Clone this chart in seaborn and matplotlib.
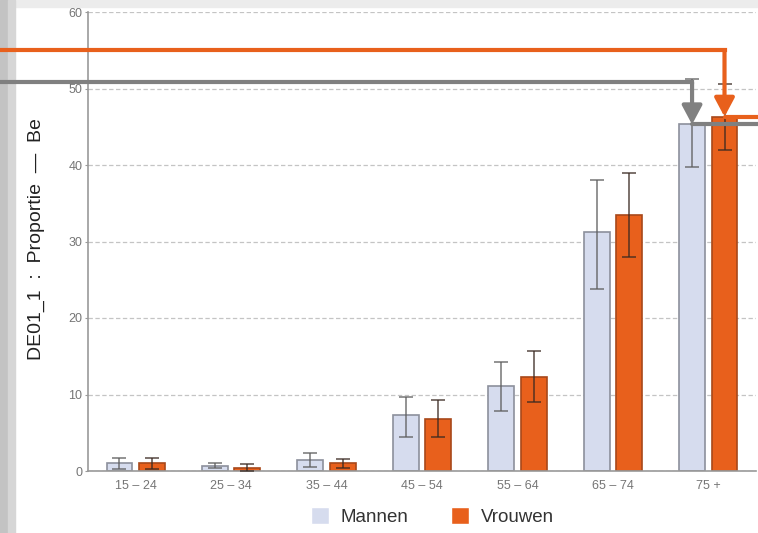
import matplotlib
matplotlib.use("Agg")
import matplotlib.pyplot as plt
import numpy as np
import pandas as pd
import seaborn as sns
from matplotlib.patches import Rectangle

# Values
age_groups = ["15 – 24", "25 – 34", "35 – 44", "45 – 54", "55 – 64", "65 – 74", "75 +"]
mannen = [1.0, 0.7, 1.4, 7.3, 11.1, 31.2, 45.3]
mannen_lo = [0.3, 0.4, 0.5, 4.4, 7.9, 23.8, 39.8]
mannen_hi = [1.7, 1.0, 2.4, 9.7, 14.2, 38.1, 51.3]
vrouwen = [1.0, 0.4, 1.0, 6.8, 12.3, 33.5, 46.3]
vrouwen_lo = [0.3, 0.0, 0.4, 4.4, 9.0, 28.0, 42.0]
vrouwen_hi = [1.7, 0.9, 1.6, 9.3, 15.7, 39.0, 50.6]
y_ticks = [0, 10, 20, 30, 40, 50, 60]

sexes = ["Mannen", "Vrouwen"]
colors = {"Mannen": "#d6dcee", "Vrouwen": "#e8601c"}
edges = {"Mannen": "#8c909c", "Vrouwen": "#a8481a"}
err_colors = {"Mannen": "#5e5e5e", "Vrouwen": "#3a2a22"}

df = pd.DataFrame({
    "leeftijd": age_groups * 2,
    "geslacht": ["Mannen"] * len(age_groups) + ["Vrouwen"] * len(age_groups),
    "waarde": mannen + vrouwen,
    "lo": mannen_lo + vrouwen_lo,
    "hi": mannen_hi + vrouwen_hi,
})

sns.set_theme(style = "white")
plt.rcParams["font.family"] = ["Liberation Sans", "DejaVu Sans"]

fig = plt.figure(figsize = (7.58, 5.33), dpi = 100)
fig.patch.set_facecolor("white")
ax = fig.add_axes([88 / 758, 1 - 471 / 533, 668 / 758, 459 / 533])

# Window chrome around the screenshot
fig.patches.append(Rectangle((0, 1 - 7 / 533), 1, 7 / 533, transform = fig.transFigure, color = "#ececec", zorder = -5))
fig.patches.append(Rectangle((0, 0), 8 / 758, 1, transform = fig.transFigure, color = "#c3c3c3", zorder = -5))
fig.patches.append(Rectangle((8 / 758, 0), 7 / 758, 1, transform = fig.transFigure, color = "#d6d6d6", zorder = -5))

sns.barplot(data = df, x = "leeftijd", y = "waarde", hue = "geslacht", hue_order = sexes,
            palette = colors, saturation = 1, width = 0.68, gap = 0.2, errorbar = None, ax = ax, zorder = 2)

# edge colours and error bars, positioned from the drawn bars
bar_tops = {}
for sex, container in zip(sexes, ax.containers):
    sub = df[df["geslacht"] == sex]
    xs = []
    for patch in container:
        patch.set_edgecolor(edges[sex])
        patch.set_linewidth(1.2)
        xs.append(patch.get_x() + patch.get_width() / 2)
    xs = np.array(xs)
    vals = sub["waarde"].to_numpy()
    yerr = [vals - sub["lo"].to_numpy(), sub["hi"].to_numpy() - vals]
    ax.errorbar(xs, vals, yerr = yerr, fmt = "none", ecolor = err_colors[sex], elinewidth = 1.1,
                capsize = 5, capthick = 1.1, alpha = 0.85, zorder = 3)
    bar_tops[sex] = (xs[-1], vals[-1])

ax.set_xlim(-0.5, 6.5)
ax.set_ylim(0, 60)
ax.set_yticks(y_ticks)
ax.yaxis.grid(True, color = "#c4c4c4", linestyle = (0, (3.5, 2)), linewidth = 0.9)
ax.set_axisbelow(True)
for side in ["top", "right"]:
    ax.spines[side].set_visible(False)
for side in ["left", "bottom"]:
    ax.spines[side].set_color("#999999")
    ax.spines[side].set_linewidth(1.2)
ax.tick_params(axis = "y", length = 2.5, width = 0.8, color = "#999999", pad = 1.5, labelsize = 9, labelcolor = "#757575", left = True)
ax.tick_params(axis = "x", length = 0, pad = 6.5, labelsize = 9, labelcolor = "#757575")
ax.set_xlabel("")
ax.set_ylabel("DE01_1  :  Proportie  —  Be", fontsize = 14, color = "#222222")
ax.yaxis.set_label_coords(-0.064, 0.505)

# Highlight arrows pointing at the 75+ bars
for sex, level, col in [("Vrouwen", 55.0, "#e8601c"), ("Mannen", 50.8, "#808080")]:
    bx, top = bar_tops[sex]
    ax.plot([-2, bx], [level, level], color = col, lw = 3, solid_capstyle = "projecting", clip_on = False, zorder = 5)
    ax.annotate("", xy = (bx, top), xytext = (bx, level), annotation_clip = False, zorder = 5,
                arrowprops = dict(arrowstyle = "-|>,head_length=0.75,head_width=0.4", color = col, lw = 3,
                                  mutation_scale = 15, shrinkA = 0, shrinkB = 0))
    ax.plot([bx, 7.5], [top, top], color = col, lw = 3, clip_on = False, zorder = 6)

sns.move_legend(ax, "center", bbox_to_anchor = (0.5157, -0.100), ncol = 2, frameon = False, title = None,
                fontsize = 13.5, handlelength = 0.95, handleheight = 1.0, handletextpad = 0.6, columnspacing = 2.3)
for txt in ax.get_legend().get_texts():
    txt.set_color("#333333")

fig.savefig("out.png", dpi = 100)
plt.close()
